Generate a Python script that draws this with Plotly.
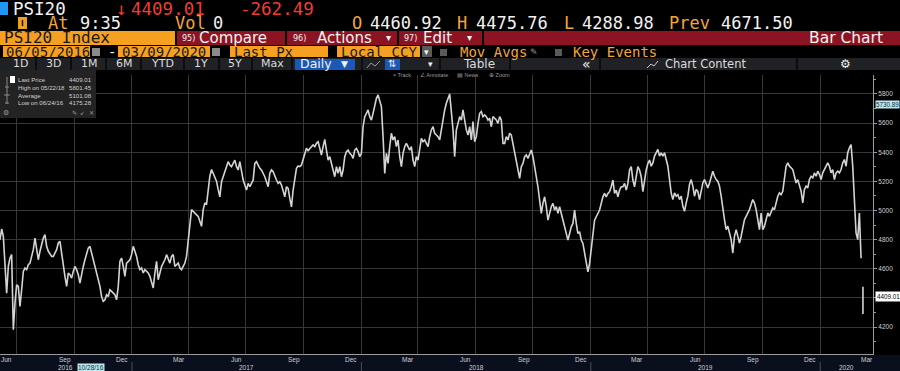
import pandas as pd
import plotly.graph_objects as go

# ---------------- data ----------------
# PSI20 price readings, evenly sampled from 2016-06-05 to 2020-03-06
price_a = [4800, 4873, 4823, 4571, 4433, 4616, 4674, 4697, 4181, 4364,
           4490, 4479, 4342, 4456, 4582, 4605, 4594, 4628, 4639, 4685,
           4731, 4811, 4731, 4662, 4720, 4777, 4811, 4834, 4754, 4720,
           4697, 4685, 4685, 4708, 4731, 4777, 4788, 4708, 4616, 4548,
           4479, 4571, 4559, 4536, 4582, 4616, 4594, 4559, 4502, 4571,
           4616, 4662, 4697, 4742, 4754, 4708, 4662, 4616, 4571, 4525,
           4479, 4410, 4376, 4387, 4422, 4410, 4456, 4445, 4433, 4422,
           4387, 4479, 4651, 4674, 4616, 4548, 4639, 4651, 4662, 4697,
           4754, 4720, 4685, 4628, 4594, 4605, 4571, 4594, 4582, 4571,
           4548, 4502, 4468, 4571, 4651, 4525, 4582, 4616, 4639, 4662,
           4697, 4662, 4639, 4685, 4697, 4616, 4628, 4639, 4605, 4594,
           4616, 4639, 4685, 4800, 4914, 5006, 4994, 4983, 4972, 4960,
           4926, 4891, 5006, 5052, 5040, 5143, 5235, 5281, 5258, 5235,
           5201, 5143]
price_b = [5094, 5197, 5232, 5266, 5289, 5335, 5312, 5301, 5323, 5346,
           5301, 5278, 5335, 5255, 5209, 5175, 5140, 5186, 5163, 5186,
           5209, 5323, 5335, 5312, 5289, 5278, 5255, 5232, 5197, 5163,
           5255, 5278, 5266, 5232, 5209, 5186, 5197, 5175, 5140, 5094,
           5163, 5152, 5083, 5025, 5140, 5209, 5289, 5305, 5301, 5312,
           5346, 5381, 5427, 5411, 5427, 5438, 5450, 5438, 5461, 5472,
           5427, 5381, 5438, 5488, 5415, 5346, 5369, 5323, 5278, 5232,
           5301, 5255, 5301, 5232, 5278, 5369, 5404, 5415, 5392, 5381,
           5358, 5415, 5427, 5404, 5369, 5392, 5575, 5644, 5667, 5690,
           5644, 5621, 5667, 5724, 5770, 5793, 5759, 5713, 5507, 5255,
           5392, 5323, 5438, 5530, 5484, 5507, 5438, 5484, 5369, 5301,
           5392, 5438, 5461, 5438, 5415, 5438, 5346, 5301, 5369, 5346,
           5438, 5495, 5472, 5484, 5461, 5438, 5507, 5553, 5575, 5530,
           5518, 5507, 5484]
price_c = [5553, 5644, 5690, 5736, 5770, 5800, 5679, 5553, 5369, 5553,
           5598, 5644, 5621, 5690, 5621, 5553, 5518, 5575, 5484, 5610,
           5472, 5507, 5598, 5667, 5679, 5644, 5656, 5644, 5621, 5633,
           5575, 5644, 5633, 5621, 5598, 5644, 5621, 5461, 5461, 5507,
           5484, 5530, 5518, 5461, 5404, 5346, 5278, 5220, 5301, 5323,
           5369, 5381, 5358, 5381, 5415, 5369, 5301, 5255, 5163, 5071,
           4980, 5049, 5094, 5026, 4934, 4980, 5026, 5049, 5003, 5026,
           4980, 5026, 4980, 4934, 4888, 4842, 4797, 4842, 4888, 4911,
           5003, 4911, 4842, 4854, 4797, 4774, 4705, 4659, 4579, 4636,
           4751, 4865, 4934, 4957, 4980, 5003, 5049, 5094, 5117, 5094,
           5117, 5129, 5163, 5209, 5117, 5140, 5094, 5140, 5163, 5163,
           5186, 5140, 5186, 5278, 5301, 5209, 5163, 5232, 5301, 5278,
           5232, 5129, 5209, 5278, 5323, 5346]
price_d = [5304, 5327, 5373, 5396, 5419, 5373, 5396, 5373, 5396, 5350,
           5304, 5212, 5121, 5075, 5121, 5098, 5109, 5075, 5098, 5029,
           4995, 5052, 5098, 5178, 5212, 5167, 5098, 5144, 5132, 5075,
           5144, 5189, 5212, 5189, 5155, 5189, 5235, 5270, 5235, 5212,
           5201, 5167, 5098, 5006, 4937, 4869, 4892, 4846, 4800, 4708,
           4823, 4869, 4823, 4777, 4823, 4892, 4937, 4960, 4983, 5006,
           5041, 5075, 5052, 5006, 4937, 4869, 4983, 4869, 4892, 4937,
           4983, 4960, 4995, 5018, 5006, 5063, 5098, 5121, 5109, 5132,
           5212, 5304, 5327, 5304, 5293, 5281, 5235, 5189, 5212, 5167,
           5132, 5052, 5144, 5167, 5155, 5212, 5235, 5224, 5258, 5235,
           5270, 5247, 5212, 5258, 5281, 5304, 5327, 5304, 5258, 5281,
           5212, 5258, 5270, 5258, 5281, 5327, 5350, 5304, 5396, 5430,
           5453, 5304, 5098, 4846, 4800, 4983, 4672]

prices = price_a + price_b + price_c + price_d
dates = pd.date_range("2016-06-05", "2020-03-06", periods=len(prices))

last_day = "2020-03-09"
last_open, last_high, last_low, last_price = 4460.92, 4475.76, 4288.98, 4409.01
prev_close = 4671.50
net_change = -262.49
stat_high, stat_high_date = 5801.45, "05/22/18"
stat_avg = 5101.08
stat_low, stat_low_date = 4175.28, "06/24/16"
marker_level = 5730.89
cursor_date = "2016-10-28"

x_start, x_end = "2016-06-05", "2020-03-25"
y_ticks = [4200, 4400, 4600, 4800, 5000, 5200, 5400, 5600, 5800]
y_hidden = [4400]  # covered by the last-price box in the reference
month_labels = ["Jun", "Sep", "Dec", "Mar", "Jun", "Sep", "Dec", "Mar",
                "Jun", "Sep", "Dec", "Mar", "Jun", "Sep", "Dec", "Mar"]
year_labels = ["2016", "2017", "2018", "2019", "2020"]

# ---------------- layout helpers ----------------
W, H, ML, MR, MT, MB = 900, 371, 0, 27, 75, 17
PW, PH = W - ML - MR, H - MT - MB


def X(px):
    return (px - ML) / PW


def Y(py):
    return (H - MB - py) / PH


MONO = "DejaVu Sans Mono"
SANS = "DejaVu Sans"
SMALL = "Liberation Sans"
ORANGE = "#f5a021"
OTXT = "#f4a53c"
RED = "#f23c32"
WHITE = "#f2f2f2"

shapes = []
ann = []


def rect(x0, y0, x1, y1, fill):
    shapes.append(dict(type="rect", xref="paper", yref="paper", x0=X(x0), x1=X(x1),
                       y0=Y(y1), y1=Y(y0), fillcolor=fill, line=dict(width=0)))


def seg(x0, y0, x1, y1, color, width=1):
    shapes.append(dict(type="line", xref="paper", yref="paper", x0=X(x0), x1=X(x1),
                       y0=Y(y0), y1=Y(y1), line=dict(color=color, width=width)))


def txt(x, y, s, color, size, family, anchor="left", **kw):
    ann.append(dict(x=X(x), y=Y(y), xref="paper", yref="paper", text=s, showarrow=False,
                    xanchor=anchor, yanchor="middle", borderpad=0,
                    font=dict(color=color, size=size, family=family), **kw))


# Row 1
rect(0, 2, 8, 15, "#2196f3")
txt(12, 9, "PSI20", WHITE, 17.5, MONO)
txt(115, 9, "↓", RED, 17.5, MONO)
txt(130, 9, f"{last_price:.2f}", RED, 17.5, MONO)
txt(239, 9, f"{net_change:.2f}", RED, 17.5, MONO)

# Row 2
rect(18, 17, 27, 29, "#f0a020")
seg(22.5, 20, 22.5, 26, "#1a1a1a", 1.5)
R2 = 17
txt(47, 23, "At", OTXT, R2, MONO)
txt(79, 23, "9:35", WHITE, R2, MONO)
txt(174, 23, "Vol", OTXT, R2, MONO)
txt(212, 23, "0", WHITE, R2, MONO)
txt(351, 23, "O", OTXT, R2, MONO)
txt(369, 23, f"{last_open:.2f}", WHITE, R2, MONO)
txt(456, 23, "H", OTXT, R2, MONO)
txt(475, 23, f"{last_high:.2f}", WHITE, R2, MONO)
txt(563, 23, "L", OTXT, R2, MONO)
txt(581, 23, f"{last_low:.2f}", WHITE, R2, MONO)
txt(668, 23, "Prev", OTXT, R2, MONO)
txt(720, 23, f"{prev_close:.2f}", WHITE, R2, MONO)

# Row 3
rect(0, 31, 175, 45, ORANGE)
txt(3, 38, "PSI20 Index", "#1a1a1a", 16, MONO)
rect(177, 31, 900, 45, "#8c1422")
for sx in (286, 398, 483):
    seg(sx, 31, sx, 45, "#000000", 2)
txt(181, 38.5, "95)", WHITE, 8, SANS)
txt(198, 38, "Compare", WHITE, 15, SANS)
txt(292, 38.5, "96)", WHITE, 8, SANS)
txt(316, 38, "Actions", WHITE, 15, SANS)
txt(385, 38, "▾", WHITE, 10, SANS)
txt(403, 38.5, "97)", WHITE, 8, SANS)
txt(422, 38, "Edit", WHITE, 15, SANS)
txt(466, 38, "▾", WHITE, 10, SANS)
txt(808, 38, "Bar Chart", WHITE, 15.5, SANS)

# Row 4
for (a, b) in ((3, 90), (118, 210), (230, 328), (337, 420)):
    rect(a, 46, b, 57, ORANGE)
txt(5, 52, "06/05/2016", "#1a1a1a", 14, MONO)
txt(121, 52, "03/09/2020", "#1a1a1a", 14, MONO)
txt(233, 52, "Last Px", "#1a1a1a", 14, MONO)
txt(340, 52, "Local CCY", "#1a1a1a", 14, MONO)
rect(92, 48, 100, 56, "#8a8a8a")
rect(212, 48, 220, 56, "#8a8a8a")
txt(107, 52, "-", WHITE, 14, MONO)
rect(422, 46, 432, 57, "#5a5a5a")
txt(423, 52, "▾", WHITE, 9, SANS)
rect(440, 49, 447, 56, "#5a5a5a")
txt(459, 52, "Mov Avgs", OTXT, 14, MONO)
txt(529, 52, "✎", "#9a9a9a", 9, SANS)
rect(555, 49, 562, 56, "#5a5a5a")
txt(572, 52, "Key Events", OTXT, 14, MONO)

# Row 5
rect(0, 58, 900, 70, "#1f2124")
for sx in (36, 71, 106, 141, 184, 219, 252, 292, 362, 440, 510, 600, 797):
    seg(sx, 58, sx, 70, "#070707", 1.5)
for lx, lab in ((12, "1D"), (45, "3D"), (80, "1M"), (115, "6M"), (150, "YTD"),
                (193, "1Y"), (227, "5Y"), (260, "Max")):
    txt(lx, 64, lab, "#dcdcdc", 11, SANS)
rect(295, 59, 355, 70, "#1c58b8")
txt(299, 64, "Daily", WHITE, 12.5, SANS)
txt(340, 64, "▼", WHITE, 9, SANS)
shapes.append(dict(type="path", xref="paper", yref="paper",
                   path=f"M {X(367)},{Y(68)} L {X(371)},{Y(63)} L {X(375)},{Y(66)} L {X(380)},{Y(61)}",
                   line=dict(color="#9a9a9a", width=1)))
rect(385, 59, 400, 70, "#1c58b8")
txt(387, 64, "⇅", WHITE, 10, SANS)
txt(427, 64, "▾", WHITE, 9, SANS)
txt(462, 64, "Table", "#dcdcdc", 12, SANS)
txt(581, 64, "«", WHITE, 14, SANS)
shapes.append(dict(type="path", xref="paper", yref="paper",
                   path=f"M {X(647)},{Y(68)} L {X(651)},{Y(64)} L {X(654)},{Y(66)} L {X(658)},{Y(61)}",
                   line=dict(color="#cfcfcf", width=1)))
txt(664, 64, "Chart Content", "#dcdcdc", 11.5, SANS)
txt(839, 64, "⚙", WHITE, 12, SANS)

# Row 6 (tiny toolbar)
for lx, lab in ((392, "⌖ Track"), (419, "∠ Annotate"), (456, "▤ News"), (488, "⊕ Zoom")):
    txt(lx, 75, lab, "#9a9a9a", 5.5, SMALL)

# Legend box (top left)
rect(0, 70, 96, 118, "#232323")
rect(10, 76, 15, 83, "#ffffff")
seg(7, 77, 7, 104, "#8a8a8a", 1)
seg(5, 87, 9, 87, "#8a8a8a", 1)
seg(4, 95, 10, 95, "#8a8a8a", 1)
seg(5, 103, 9, 103, "#8a8a8a", 1)
LG = "#d0d0d0"
rows = [("Last Price", last_price), (f"High on {stat_high_date}", stat_high),
        ("Average", stat_avg), (f"Low on {stat_low_date}", stat_low)]
for i, (lab, val) in enumerate(rows):
    yy = 80 + i * 7.5
    txt(17, yy, lab, LG, 6.1, SMALL)
    txt(93, yy, f"{val:.2f}", LG, 6.1, SMALL, anchor="right")
txt(2, 113, "⚙", "#9a9a9a", 7, SANS)
txt(71, 113, "✎", "#9a9a9a", 6, SANS)
txt(79, 113, "↙", "#9a9a9a", 6, SANS)
txt(88, 113, "✕", "#9a9a9a", 6, SANS)

# Bottom band
rect(0, 355, 900, 371, "#0a0f1e")
for yl in year_labels[1:]:
    shapes.append(dict(type="line", xref="x", yref="paper", x0=f"{yl}-01-01", x1=f"{yl}-01-01",
                       y0=Y(362), y1=Y(371), line=dict(color="#4a4f5a", width=1)))

month_dates = [pd.Timestamp("2016-06-16") + pd.DateOffset(months=3 * i) for i in range(len(month_labels))]
for d, lab in zip(month_dates, month_labels):
    ann.append(dict(x=d, y=Y(359.5), xref="x", yref="paper", text=lab, showarrow=False,
                    xanchor="center", yanchor="middle", borderpad=0,
                    font=dict(color="#cfcfcf", size=6.5, family=SMALL)))
t0, t1 = pd.Timestamp(x_start), pd.Timestamp(x_end)
for yl in year_labels:
    a = max(pd.Timestamp(f"{yl}-01-01"), t0)
    b = min(pd.Timestamp(f"{int(yl) + 1}-01-01"), t1)
    ann.append(dict(x=a + (b - a) / 2, y=Y(367.3), xref="x", yref="paper", text=yl,
                    showarrow=False, xanchor="center", yanchor="middle", borderpad=0,
                    font=dict(color="#cfcfcf", size=6.5, family=SMALL)))
ann.append(dict(x=cursor_date, y=Y(367.5), xref="x", yref="paper", text="10/28/16",
                showarrow=False, xanchor="center", yanchor="middle", bgcolor="#bde8ef",
                borderpad=0, font=dict(color="#0d2a3a", size=6.5, family=SMALL)))

# right-side value boxes
ann.append(dict(x=X(875), y=marker_level, xref="paper", yref="y", text=f"{marker_level:.2f}",
                showarrow=False, xanchor="left", yanchor="middle", bgcolor="#bde8ef",
                borderpad=0, font=dict(color="#0d2a3a", size=6.3, family=SMALL)))
ann.append(dict(x=X(875), y=last_price, xref="paper", yref="y", text=f"{last_price:.2f}",
                showarrow=False, xanchor="left", yanchor="middle", bgcolor="#ffffff",
                borderpad=1, font=dict(color="#000000", size=6.3, family=SMALL)))

# ---------------- figure ----------------
fig = go.Figure()
fig.add_trace(go.Scatter(x=dates, y=prices, mode="lines",
                         line=dict(color="#d4d4d4", width=1.6), hoverinfo="skip"))
fig.add_trace(go.Scatter(x=[last_day, last_day], y=[last_low, last_high], mode="lines",
                         line=dict(color="#d4d4d4", width=1.6), hoverinfo="skip"))

fig.update_layout(width=W, height=H, margin=dict(l=ML, r=MR, t=MT, b=MB, autoexpand=False),
                  paper_bgcolor="#000000", plot_bgcolor="#000000", showlegend=False,
                  shapes=shapes, annotations=ann)
fig.update_xaxes(type="date", range=[x_start, x_end], dtick="M3", tick0="2016-07-01",
                 showticklabels=False, showgrid=True, gridcolor="#383838", gridwidth=1,
                 showline=True, linecolor="#9a9a9a", ticks="outside", ticklen=3,
                 tickcolor="#9a9a9a", zeroline=False,
                 minor=dict(dtick="M1", tick0="2016-07-01", ticks="outside", ticklen=2,
                            tickcolor="#9a9a9a", showgrid=False))
fig.update_yaxes(range=[4015, 5930], side="right", tickmode="array", tickvals=y_ticks,
                 ticktext=["" if v in y_hidden else str(v) for v in y_ticks],
                 showgrid=True, gridcolor="#383838",
                 showline=True, linecolor="#9a9a9a", ticks="outside", ticklen=3,
                 tickcolor="#9a9a9a", zeroline=False,
                 tickfont=dict(size=6.5, color="#cfcfcf", family=SMALL),
                 minor=dict(tickmode="linear", tick0=4100, dtick=200, ticks="outside",
                            ticklen=2, tickcolor="#9a9a9a", showgrid=False))

fig.write_html("out.html", config={"displayModeBar": False},
               post_script="document.body.style.margin='0px';document.body.style.overflow='hidden';")
